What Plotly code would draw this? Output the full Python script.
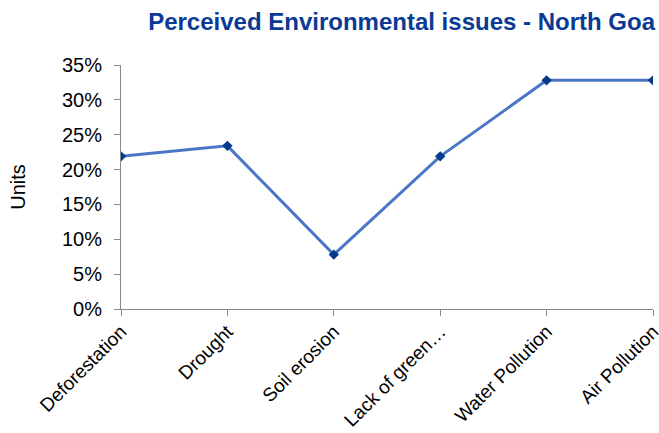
import plotly.graph_objects as go

categories = ["Deforestation", "Drought", "Soil erosion", "Lack of green…", "Water Pollution", "Air Pollution"]
values = [0.219, 0.234, 0.078, 0.219, 0.328, 0.328]
y_ticks = [0, 0.05, 0.10, 0.15, 0.20, 0.25, 0.30, 0.35]

W, H = 659, 433

fig = go.Figure()

fig.add_trace(
    go.Scatter(
        x=list(range(len(categories))),
        y=values,
        mode="lines+markers",
        line=dict(color="#4a76c8", width=3),
        marker=dict(symbol="diamond", size=8, color="#063a8c"),
        name="North Goa"
    )
)

fig.update_layout(
    width=W,
    height=H,
    autosize=False,
    paper_bgcolor="white",
    plot_bgcolor="white",
    showlegend=False,
    margin=dict(l=121, r=6, t=65, b=124),
    font=dict(family="Liberation Sans, Arial, sans-serif", size=20, color="black"),
    title=dict(
        text="<b>Perceived Environmental issues - North Goa</b>",
        font=dict(size=24, color="#0a3a94"),
        x=655 / W,
        xanchor="right",
        y=1 - 22 / H,
        yanchor="middle"
    ),
    xaxis=dict(
        tickmode="array",
        tickvals=list(range(len(categories))),
        ticktext=categories,
        range=[0, len(categories) - 1],
        tickangle=-45,
        ticklabeloverflow="allow",
        automargin=False,
        showgrid=False,
        zeroline=False,
        showline=True,
        linecolor="#888888",
        linewidth=1,
        ticks="outside",
        ticklen=6,
        tickcolor="#888888",
        ticklabelstandoff=-3,
        tickfont=dict(size=19)
    ),
    yaxis=dict(
        title=dict(text="Units", font=dict(size=20), standoff=30),
        range=[0, 0.35],
        tickvals=y_ticks,
        tickformat=".0%",
        automargin=False,
        showgrid=False,
        zeroline=False,
        showline=True,
        linecolor="#888888",
        linewidth=1,
        ticks="outside",
        ticklen=6,
        tickcolor="#888888",
        ticklabelstandoff=8,
        tickfont=dict(size=20)
    )
)

# drop the default page margin and scrollbars so the figure fills the window
page_fix = (
    "document.documentElement.style.overflow = 'hidden';"
    "document.body.style.margin = '0';"
    "document.body.style.overflow = 'hidden';"
)
fig.write_html(
    "out.html",
    config={"displayModeBar": False, "responsive": False},
    post_script=page_fix
)
